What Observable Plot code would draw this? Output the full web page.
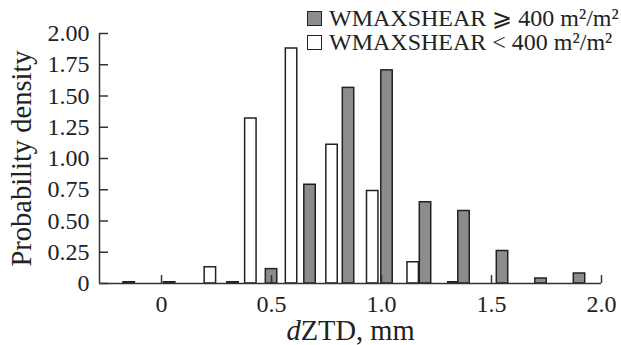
<!DOCTYPE html>
<html>
<head>
<meta charset="utf-8">
<script src="https://cdn.jsdelivr.net/npm/d3@7"></script>
<script src="https://cdn.jsdelivr.net/npm/@observablehq/plot@0.6"></script>
<style>
  html, body { margin: 0; padding: 0; background: #fff; }
  #wrap { position: relative; width: 621px; height: 345px; font-family: "Liberation Serif", "Times New Roman", serif; color: #222; }
  #chart svg, #chart svg text { font-family: "Liberation Serif", "Times New Roman", serif !important; }
  #legend { position: absolute; left: 307px; top: 6px; font-size: 24px; line-height: 24px; white-space: nowrap; }
  #legend .row { display: flex; align-items: center; height: 24px; }
  #legend .sw { display: inline-block; width: 15px; height: 15px; border: 1.5px solid #222; margin-right: 7px; box-sizing: border-box; flex: none; }
</style>
</head>
<body>
<div id="wrap">
  <div id="chart"></div>
  <div id="legend"></div>
</div>
<script>
// ---- data ----
const seriesNames = ["WMAXSHEAR \u2A7E 400 m²/m²", "WMAXSHEAR < 400 m²/m²"];
const highX = [0.325, 0.5, 0.675, 0.85, 1.025, 1.2, 1.375, 1.55, 1.725, 1.9];
const highDensity = [0.01, 0.115, 0.79, 1.565, 1.705, 0.65, 0.58, 0.26, 0.04, 0.08];
const lowX = [-0.147, 0.037, 0.222, 0.406, 0.591, 0.775, 0.96, 1.144, 1.329];
const lowDensity = [0.01, 0.01, 0.13, 1.32, 1.88, 1.11, 0.74, 0.17, 0.01];
const xTicks = [0, 0.5, 1.0, 1.5, 2.0];
const xTickLabels = ["0", "0.5", "1.0", "1.5", "2.0"];
const yTicks = [0, 0.25, 0.5, 0.75, 1.0, 1.25, 1.5, 1.75, 2.0];
const yTickLabels = ["0", "0.25", "0.50", "0.75", "1.00", "1.25", "1.50", "1.75", "2.00"];
const xDomain = [-0.282, 2.0];
const yDomain = [0, 2];

const high = highX.map((x, i) => ({x, v: highDensity[i]}));
const low = lowX.map((x, i) => ({x, v: lowDensity[i]}));
const bw = 0.052;
const ink = "#222";
const grayFill = "#8c8c8c";
const font = "Liberation Serif";

const plot = Plot.plot({
  width: 621,
  height: 345,
  marginLeft: 99,
  marginRight: 20,
  marginTop: 33,
  marginBottom: 62,
  style: {fontSize: "24px", color: ink, background: "white", overflow: "visible"},
  x: {domain: xDomain, axis: null},
  y: {domain: yDomain, axis: null},
  marks: [
    Plot.rectY(low, {x1: d => d.x - bw / 2, x2: d => d.x + bw / 2, y: "v", fill: "white", stroke: ink, strokeWidth: 1.5}),
    Plot.rectY(high, {x1: d => d.x - bw / 2, x2: d => d.x + bw / 2, y: "v", fill: grayFill, stroke: ink, strokeWidth: 1.5}),
    Plot.ruleY([0], {stroke: "#333", strokeWidth: 1.5}),
    Plot.ruleX([xDomain[0]], {stroke: "#333", strokeWidth: 1.5}),
    // inward ticks
    Plot.axisY({ticks: yTicks, tickSize: 9, dx: 9, text: null, label: null, stroke: "#333", strokeWidth: 1.5}),
    Plot.axisX({ticks: xTicks, tickSize: 8, dy: -8, text: null, label: null, stroke: "#333", strokeWidth: 1.5}),
    // tick labels
    Plot.axisY({ticks: yTicks, tickSize: 0, tickPadding: 10, tickFormat: (d, i) => yTickLabels[i], label: null, fill: ink, fontSize: 24, fontFamily: font}),
    Plot.axisX({ticks: xTicks, tickSize: 0, tickPadding: 11, tickFormat: (d, i) => xTickLabels[i], label: null, fill: ink, fontSize: 24, fontFamily: font}),
    // axis titles
    Plot.text(["Probability density"], {frameAnchor: "left", textAnchor: "middle", rotate: -90, dx: -78, fontSize: 28.5, fontFamily: font, fill: ink, lineAnchor: "middle"}),
    Plot.text(["ZTD, mm"], {frameAnchor: "bottom", textAnchor: "middle", dy: 47, fontSize: 28.5, fontFamily: font, fill: ink, lineAnchor: "middle", className: "xlabel"})
  ]
});
document.getElementById("chart").appendChild(plot);

// italic "d" prefix for x label
d3.select(plot).selectAll(".xlabel text").each(function() {
  const t = d3.select(this);
  t.text(null);
  t.append("tspan").attr("font-style", "italic").text("d");
  t.append("tspan").text("ZTD, mm");
});

// legend
const legend = d3.select("#legend");
const fills = [grayFill, "white"];
seriesNames.forEach((name, i) => {
  const row = legend.append("div").attr("class", "row");
  row.append("span").attr("class", "sw").style("background", fills[i]);
  row.append("span").text(name);
});
</script>
</body>
</html>
